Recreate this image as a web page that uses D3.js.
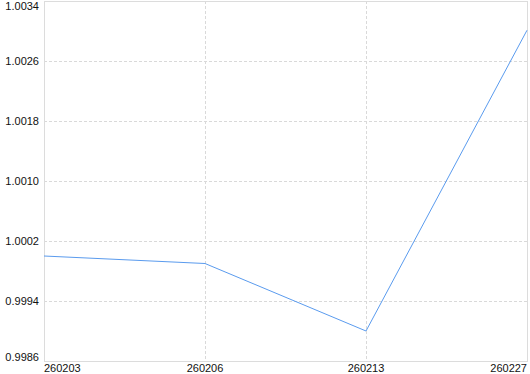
<!DOCTYPE html>
<html>
<head>
<meta charset="utf-8">
<script src="https://cdn.jsdelivr.net/npm/d3@7"></script>
<style>
  body { margin: 0; background: #fff; }
  svg { display: block; }
  text { font-family: "Liberation Sans", Arial, sans-serif; font-size: 11px; fill: #111; }
</style>
</head>
<body>
<svg width="530" height="374"></svg>
<script>
var categories = ["260203", "260206", "260213", "260227"];
var values = [1.0000, 0.99990, 0.99900, 1.00301];
var yTicks = [0.9986, 0.9994, 1.0002, 1.0010, 1.0018, 1.0026, 1.0034];

var svg = d3.select("svg"),
    margin = { top: 1, right: 3, bottom: 13, left: 44 },
    width = +svg.attr("width") - margin.left - margin.right,
    height = +svg.attr("height") - margin.top - margin.bottom,
    g = svg.append("g").attr("transform", "translate(" + margin.left + "," + margin.top + ")");

var x = d3.scalePoint()
    .domain(categories)
    .range([0, width]);

var y = d3.scaleLinear()
    .domain([0.9986, 1.0034])
    .range([height, 0]);

// grid
g.append("g")
    .selectAll("line.h")
    .data(yTicks.slice(1, -1))
    .enter().append("line")
    .attr("x1", 0).attr("x2", width)
    .attr("y1", function (d) { return Math.round(y(d)) + 0.5; })
    .attr("y2", function (d) { return Math.round(y(d)) + 0.5; })
    .attr("stroke", "#d9d9d9")
    .attr("stroke-dasharray", "3,2");

g.append("g")
    .selectAll("line.v")
    .data(categories.slice(1, -1))
    .enter().append("line")
    .attr("y1", 0).attr("y2", height)
    .attr("x1", function (d) { return Math.round(x(d)) + 0.5; })
    .attr("x2", function (d) { return Math.round(x(d)) + 0.5; })
    .attr("stroke", "#d9d9d9")
    .attr("stroke-dasharray", "3,2");

// frame
g.append("rect")
    .attr("x", 0.5).attr("y", 0.5)
    .attr("width", width).attr("height", height)
    .attr("fill", "none")
    .attr("stroke", "#dcdcdc");

// y labels
g.append("g")
    .selectAll("text")
    .data(yTicks)
    .enter().append("text")
    .attr("x", -5)
    .attr("y", function (d, i) {
        var p = y(d);
        if (i === 0) return p - 4;
        if (i === yTicks.length - 1) return p + 5;
        return p;
    })
    .attr("dy", "0.35em")
    .attr("text-anchor", "end")
    .text(function (d) { return d3.format(".4f")(d); });

// x labels
g.append("g")
    .selectAll("text")
    .data(categories)
    .enter().append("text")
    .attr("x", function (d) { return x(d); })
    .attr("y", height + 7)
    .attr("dy", "0.35em")
    .attr("text-anchor", function (d, i) {
        if (i === 0) return "start";
        if (i === categories.length - 1) return "end";
        return "middle";
    })
    .text(function (d) { return d; });

// line
var line = d3.line()
    .x(function (d, i) { return x(categories[i]); })
    .y(function (d) { return y(d); });

g.append("path")
    .datum(values)
    .attr("fill", "none")
    .attr("stroke", "#5a9bee")
    .attr("stroke-width", 1)
    .attr("d", line);
</script>
</body>
</html>
